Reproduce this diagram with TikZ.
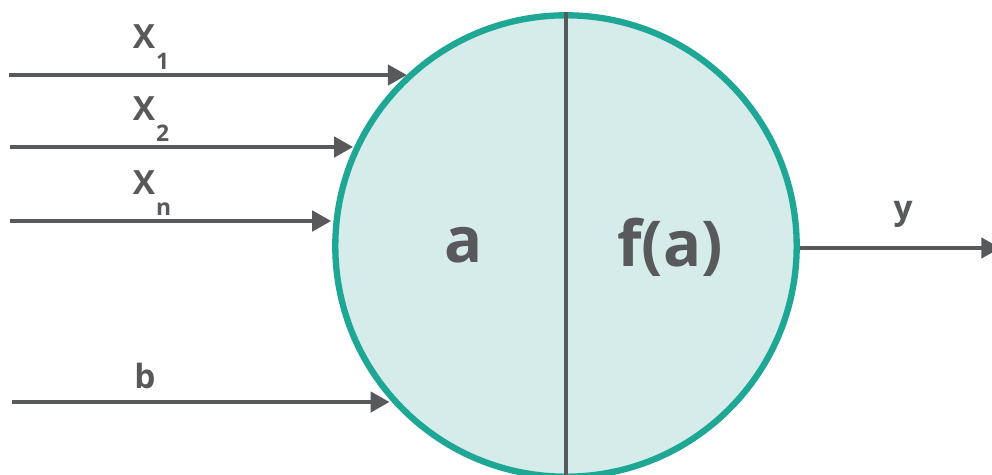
\documentclass[tikz,border=0pt]{standalone}
\usepackage{fontspec}
\setmainfont{Open Sans}
\usepackage{xcolor}
\usetikzlibrary{arrows.meta,positioning,calc}
\definecolor{inkgray}{HTML}{58595B}
\definecolor{cellfill}{HTML}{D5ECEA}
\definecolor{cellrim}{HTML}{1FA795}
\tikzset{
  neuronnode/.style={
    circle,
    draw=cellrim,
    line width=3.6pt,
    fill=cellfill,
    minimum size=9.23cm,
    inner sep=0pt
  },
  inlabel/.style={
    text=inkgray,
    font=\bfseries\fontsize{19}{19}\selectfont,
    inner sep=0pt
  },
  celllabel/.style={
    text=inkgray,
    font=\bfseries\fontsize{36}{36}\selectfont,
    inner sep=0pt
  },
  signalarrow/.style={-{Triangle[length=3.8mm,width=4mm]},line width=2.5pt,draw=inkgray,shorten >=1.5pt},
  splitline/.style={line width=2pt,draw=inkgray}
}
\newcommand{\sub}[1]{\kern0.5pt\raisebox{-1.15ex}{\fontsize{13}{13}\selectfont #1}}

\begin{document}
\begin{tikzpicture}[x=0.02cm,y=-0.02cm]
  \useasboundingbox (0,0) rectangle (992,474);
  \node[neuronnode] (neuron) at (566,246) {};
  \draw[splitline] (neuron.north) -- (neuron.south);
  \node[celllabel] (alabel) at (464,245) {a};
  \node[celllabel] (falabel) at (670,247) {f(a)};
  % inputs
  \coordinate (in1) at (9,75);
  \coordinate (in2) at (10,147);
  \coordinate (inn) at (10,221);
  \coordinate (inb) at (12,402);
  \coordinate (outy) at (1003,248);
  \draw[signalarrow] (in1) -- (in1 -| neuron.132.4);
  \draw[signalarrow] (in2) -- (in2 -| neuron.154.7);
  \draw[signalarrow] (inn) -- (inn -| neuron.173.8);
  \draw[signalarrow] (inb) -- (inb -| neuron.222.4);
  \draw[signalarrow] (neuron.east |- outy) -- (outy);
  % labels
  \node[inlabel] (x1label) at (151,47) {X\sub{1}};
  \node[inlabel] (x2label) at (151,119) {X\sub{2}};
  \node[inlabel] (xnlabel) at (152,193) {X\sub{n}};
  \node[inlabel] (blabel) at (145,376) {b};
  \node[inlabel] (ylabel) at (903,214) {y};
\end{tikzpicture}
\end{document}
